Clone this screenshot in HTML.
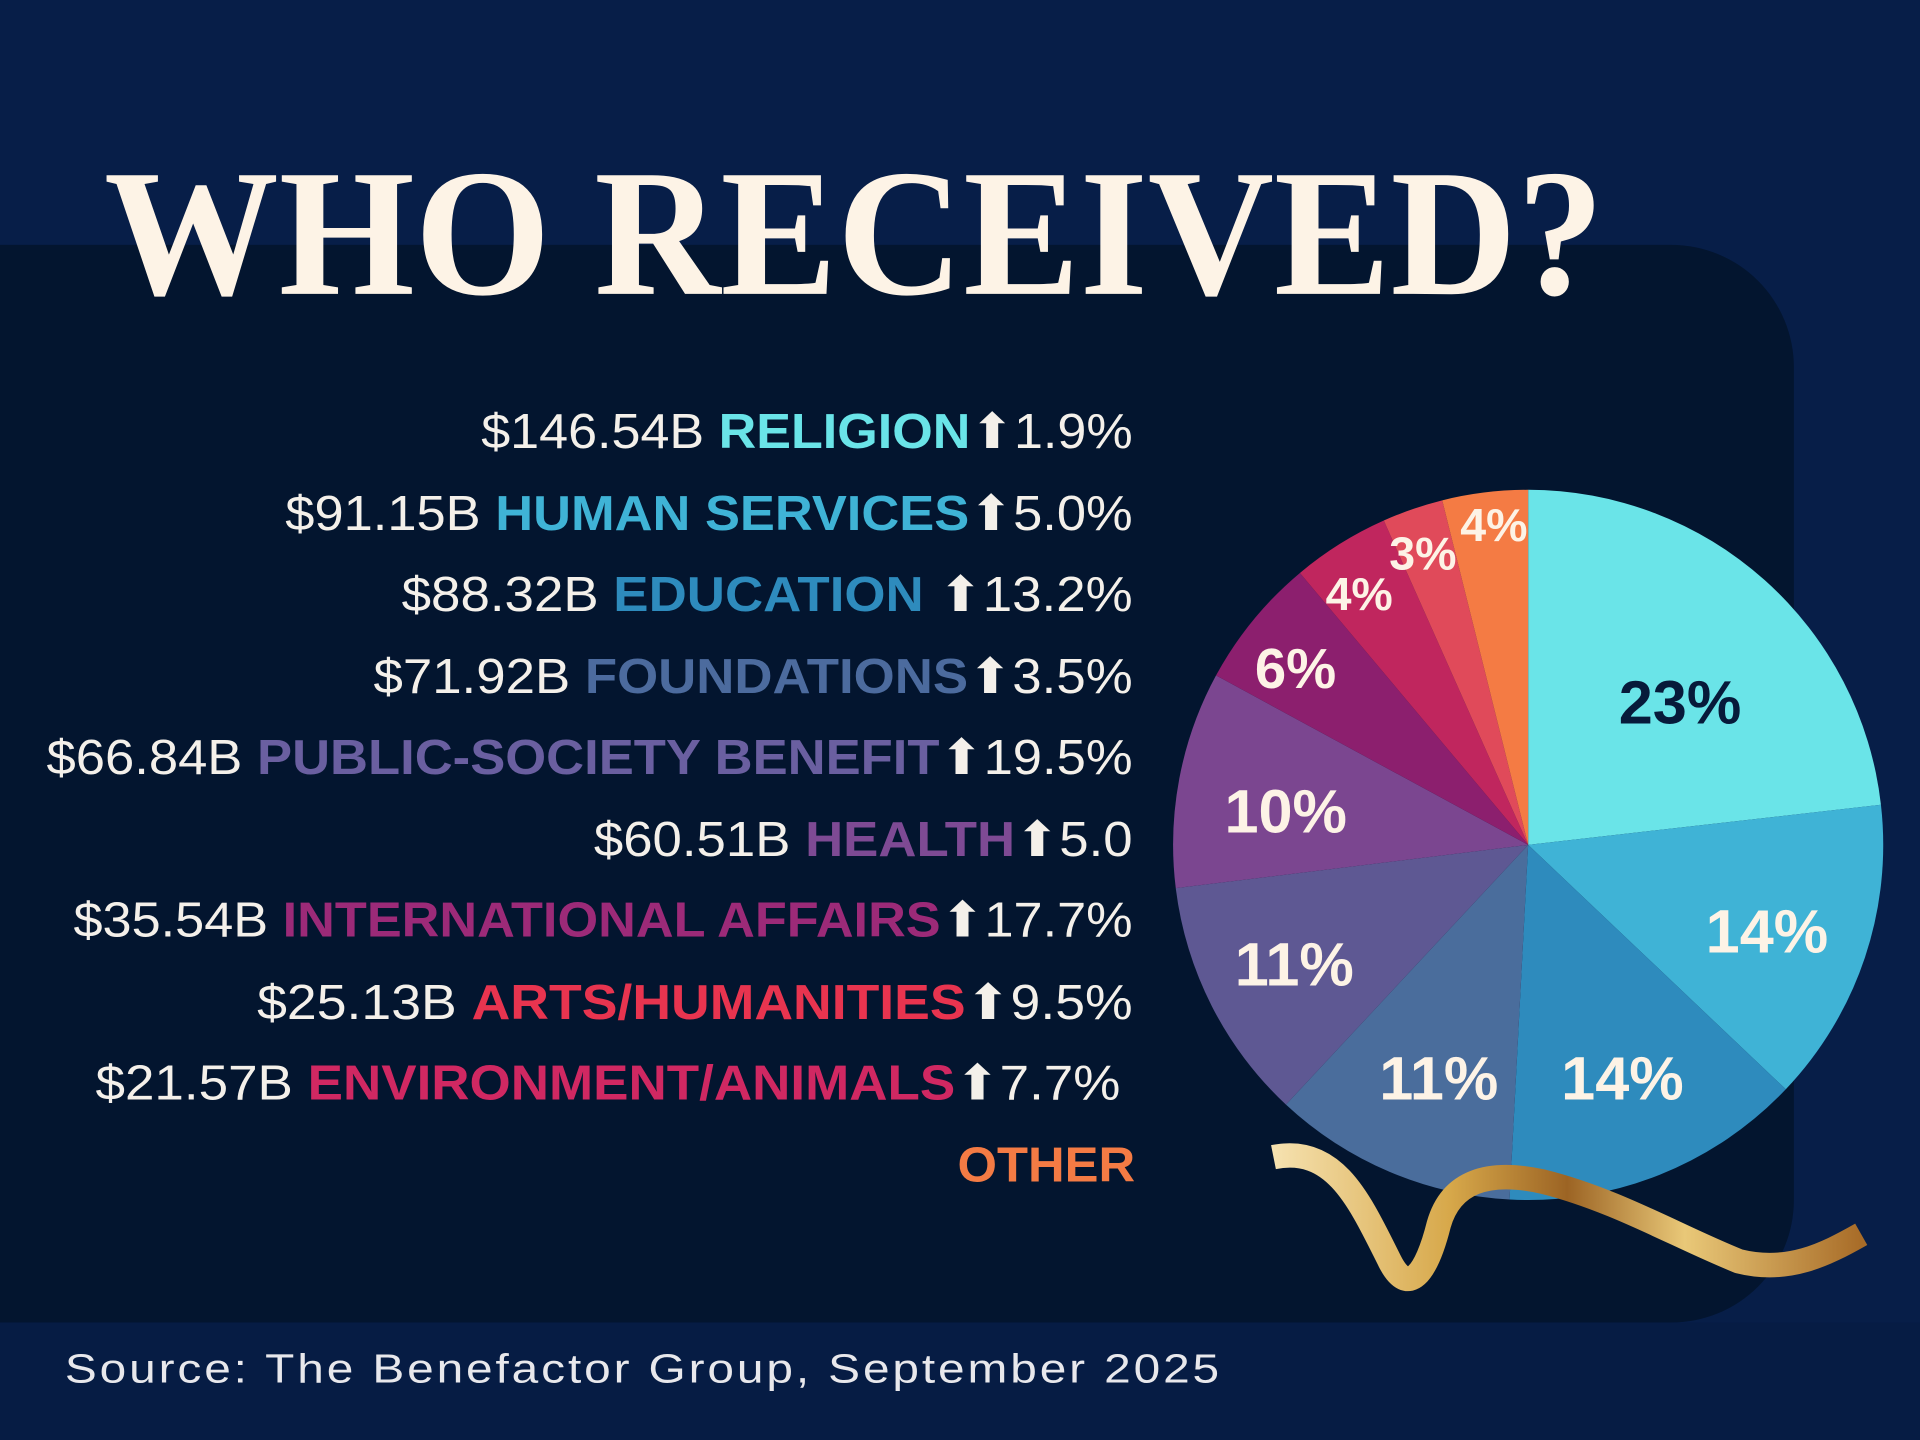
<!DOCTYPE html>
<html><head><meta charset="utf-8"><style>
html,body{margin:0;padding:0;background:#071e48;}
svg{display:block}
</style></head><body>
<svg width="1920" height="1440" viewBox="0 0 1568 1176" preserveAspectRatio="none" xmlns="http://www.w3.org/2000/svg">
<defs>
<linearGradient id="gold" x1="0" y1="0" x2="1" y2="0">
<stop offset="0" stop-color="#f6e2b0"/><stop offset="0.3" stop-color="#d7a84a"/><stop offset="0.5" stop-color="#9c6424"/><stop offset="0.7" stop-color="#e9c878"/><stop offset="1" stop-color="#a86c28"/>
</linearGradient>
</defs>
<rect x="0" y="0" width="1568" height="1176" fill="#071e48"/>
<rect x="-120" y="200" width="1585" height="880" rx="100" fill="#03152f"/>
<rect x="0" y="1080" width="1568" height="96" fill="#061c44"/>

<text x="85" y="240" textLength="1225" lengthAdjust="spacingAndGlyphs" font-family="Liberation Serif, serif" font-weight="bold" font-size="148" fill="#fdf3e6">WHO RECEIVED?</text>

<g font-family="Liberation Sans, DejaVu Sans, sans-serif" font-size="40">
<text x="393" y="366" textLength="532" lengthAdjust="spacingAndGlyphs" fill="#f4f0ea">$146.54B <tspan font-weight="bold" fill="#6ae4e8">RELIGION</tspan>⬆1.9%</text>
<text x="233" y="433" textLength="692" lengthAdjust="spacingAndGlyphs" fill="#f4f0ea">$91.15B <tspan font-weight="bold" fill="#3fb3d6">HUMAN SERVICES</tspan>⬆5.0%</text>
<text x="328" y="499" textLength="597" lengthAdjust="spacingAndGlyphs" fill="#f4f0ea">$88.32B <tspan font-weight="bold" fill="#2e8bbd">EDUCATION</tspan> ⬆13.2%</text>
<text x="305" y="566" textLength="620" lengthAdjust="spacingAndGlyphs" fill="#f4f0ea">$71.92B <tspan font-weight="bold" fill="#4c6b9e">FOUNDATIONS</tspan>⬆3.5%</text>
<text x="38" y="632" textLength="887" lengthAdjust="spacingAndGlyphs" fill="#f4f0ea">$66.84B <tspan font-weight="bold" fill="#6a5fa0">PUBLIC-SOCIETY BENEFIT</tspan>⬆19.5%</text>
<text x="485" y="699" textLength="440" lengthAdjust="spacingAndGlyphs" fill="#f4f0ea">$60.51B <tspan font-weight="bold" fill="#7e4a94">HEALTH</tspan>⬆5.0</text>
<text x="60" y="765" textLength="865" lengthAdjust="spacingAndGlyphs" fill="#f4f0ea">$35.54B <tspan font-weight="bold" fill="#9c2a78">INTERNATIONAL AFFAIRS</tspan>⬆17.7%</text>
<text x="210" y="832" textLength="715" lengthAdjust="spacingAndGlyphs" fill="#f4f0ea">$25.13B <tspan font-weight="bold" fill="#e8344f">ARTS/HUMANITIES</tspan>⬆9.5%</text>
<text x="78" y="898" textLength="837" lengthAdjust="spacingAndGlyphs" fill="#f4f0ea">$21.57B <tspan font-weight="bold" fill="#d02862">ENVIRONMENT/ANIMALS</tspan>⬆7.7%</text>
<text x="782" y="965" textLength="145" lengthAdjust="spacingAndGlyphs" font-weight="bold" fill="#f47b44">OTHER</text>
</g>

<g stroke="none">
<path d="M1248 690 L1248 400 A290 290 0 0 1 1536.1 657.2 Z" fill="#6ae4e8"/>
<path d="M1248 690 L1536.1 657.2 A290 290 0 0 1 1458.4 889.6 Z" fill="#3fb3d6"/>
<path d="M1248 690 L1458.4 889.6 A290 290 0 0 1 1232.8 979.6 Z" fill="#2e8bbd"/>
<path d="M1248 690 L1232.8 979.6 A290 290 0 0 1 1050.2 902.1 Z" fill="#4a6d9c"/>
<path d="M1248 690 L1050.2 902.1 A290 290 0 0 1 960.2 725.3 Z" fill="#5e5893"/>
<path d="M1248 690 L960.2 725.3 A290 290 0 0 1 993.1 551.6 Z" fill="#7b4690"/>
<path d="M1248 690 L993.1 551.6 A290 290 0 0 1 1061.6 467.9 Z" fill="#8c1f6e"/>
<path d="M1248 690 L1061.6 467.9 A290 290 0 0 1 1130.1 425.1 Z" fill="#c0265e"/>
<path d="M1248 690 L1130.1 425.1 A290 290 0 0 1 1177.8 408.6 Z" fill="#e04a5a"/>
<path d="M1248 690 L1177.8 408.6 A290 290 0 0 1 1248 400 Z" fill="#f47b44"/>
</g>

<g font-family="Liberation Sans, DejaVu Sans, sans-serif" font-weight="bold" text-anchor="middle" fill="#fdf3e6">
<text x="1372" y="591" font-size="50" fill="#071a3a">23%</text>
<text x="1443" y="778" font-size="50">14%</text>
<text x="1325" y="898" font-size="50">14%</text>
<text x="1175" y="898" font-size="50">11%</text>
<text x="1057" y="805" font-size="50">11%</text>
<text x="1050" y="680" font-size="50">10%</text>
<text x="1058" y="562" font-size="46">6%</text>
<text x="1110" y="498" font-size="38">4%</text>
<text x="1162" y="465" font-size="38">3%</text>
<text x="1220" y="442" font-size="38">4%</text>
</g>

<g fill="none" stroke="url(#gold)" stroke-width="20" stroke-linecap="butt">
<path d="M1040 945 C1090 935 1110 980 1135 1030 C1150 1060 1165 1040 1175 1000 C1185 965 1215 955 1260 965 C1320 980 1370 1010 1420 1030 C1460 1040 1490 1025 1520 1008"/>
</g>

<text x="53" y="1129" font-family="Liberation Sans, DejaVu Sans, sans-serif" font-size="33" letter-spacing="2" textLength="945" lengthAdjust="spacingAndGlyphs" fill="#e8e8ec">Source: The Benefactor Group, September 2025</text>
</svg>
</body></html>
